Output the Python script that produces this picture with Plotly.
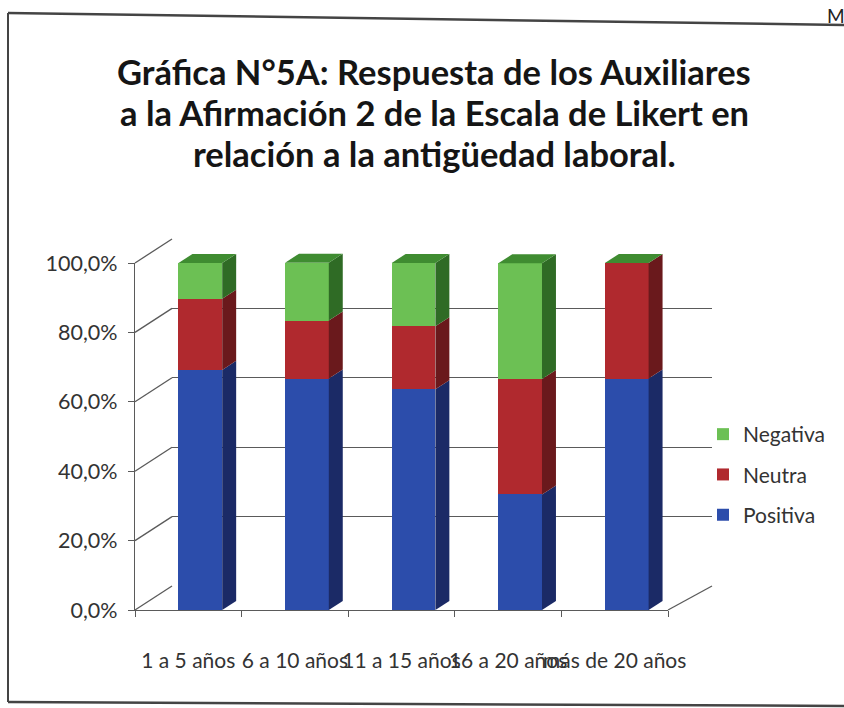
import plotly.graph_objects as go

# ---------------- data ----------------
categories = ["1 a 5 años", "6 a 10 años", "11 a 15 años", "16 a 20 años", "más de 20 años"]
positiva = [69.2, 66.7, 63.6, 33.3, 66.7]
neutra = [20.5, 16.7, 18.2, 33.3, 33.3]
negativa = [10.3, 16.7, 18.2, 33.3, 0.0]
y_tick_values = [0, 20, 40, 60, 80, 100]
y_tick_labels = ["0,0%", "20,0%", "40,0%", "60,0%", "80,0%", "100,0%"]
title_lines = ["Gráfica N°5A: Respuesta de los Auxiliares",
               "a la Afirmación 2 de la Escala de Likert en",
               "relación a la antigüedad laboral."]

# ---------------- style ----------------
W, H = 844, 708
FONT = "Lato"
front = {"Positiva": "#2C4DAB", "Neutra": "#B0292E", "Negativa": "#6CC054"}
side = {"Positiva": "#1B2A66", "Neutra": "#6A191C", "Negativa": "#2F6B25"}
top_color = "#3F8C31"
legend_rank = {"Negativa": 1, "Neutra": 2, "Positiva": 3}
BAR_W = 0.41
BAR_OFF = -0.092
DX = 0.131     # depth offset, category units
DY = 2.6       # depth offset, percent units


def fx(px):
    return px / W


def fy(py):
    return 1 - py / H


# back wall axes (x, y) and front axes (x2, y2)
xd = [fx(172), fx(712)]
yd = [fy(586), fy(239)]
x2d = [fx(135), fx(668)]
y2d = [fy(610), fy(263)]
n = len(categories)
unit = (x2d[1] - x2d[0]) / n


def pxc(c):  # category coordinate -> paper
    return x2d[0] + (c + 0.5) * unit


def py2(v):
    return y2d[0] + v / 100 * (y2d[1] - y2d[0])


def py1(v):
    return yd[0] + v / 100 * (yd[1] - yd[0])


fig = go.Figure()

# invisible trace so the back-wall subplot is drawn
fig.add_trace(go.Scatter(x=[0.5], y=[50], mode="markers", marker=dict(opacity=0),
                         showlegend=False, hoverinfo="skip", xaxis="x", yaxis="y"))

series = [("Positiva", positiva), ("Neutra", neutra), ("Negativa", negativa)]
for name, vals in series:
    fig.add_trace(go.Bar(
        x=categories, y=vals, name=name, xaxis="x2", yaxis="y2",
        width=BAR_W, offset=BAR_OFF,
        marker=dict(color=front[name], line=dict(width=0)),
        legendgroup=name, legendrank=legend_rank[name], hoverinfo="skip",
    ))

shapes = []
ddx = DX * unit
ddy = DY / 100 * (y2d[1] - y2d[0])
# 3D side faces, derived from the stacked data
base = [0.0] * n
for name, vals in series:
    for i in range(n):
        b, t = base[i], base[i] + vals[i]
        xr = pxc(i + BAR_OFF + BAR_W)
        if vals[i] > 0:
            path = (f"M {xr},{py2(b)} L {xr+ddx},{py2(b)+ddy} "
                    f"L {xr+ddx},{py2(t)+ddy} L {xr},{py2(t)} Z")
            shapes.append(dict(type="path", path=path, xref="paper", yref="paper",
                               fillcolor=side[name], line=dict(width=0), layer="above"))
        base[i] = t

# top faces
for i in range(n):
    t = base[i]
    xl = pxc(i + BAR_OFF)
    xr = pxc(i + BAR_OFF + BAR_W)
    path = (f"M {xl},{py2(t)} L {xl+ddx},{py2(t)+ddy} "
            f"L {xr+ddx},{py2(t)+ddy} L {xr},{py2(t)} Z")
    shapes.append(dict(type="path", path=path, xref="paper", yref="paper",
                       fillcolor=top_color, line=dict(width=0), layer="above"))

# diagonals linking the front axis to the back wall
for v in y_tick_values:
    shapes.append(dict(type="line", xref="paper", yref="paper",
                       x0=x2d[0], y0=py2(v), x1=xd[0], y1=py1(v),
                       line=dict(color="#5a5a5a", width=1.3), layer="below"))
# floor right edge
shapes.append(dict(type="line", xref="paper", yref="paper",
                   x0=x2d[1], y0=py2(0), x1=xd[1], y1=py1(0),
                   line=dict(color="#5a5a5a", width=1.3), layer="below"))
# outer frame (scanned page border: top, left, bottom)
for (ax0, ay0, ax1, ay1, wd) in [(8, 13, 844, 25, 2.5), (8, 13, 8, 702, 2), (8, 702, 844, 706, 2.5)]:
    shapes.append(dict(type="line", xref="paper", yref="paper",
                       x0=fx(ax0), y0=fy(ay0), x1=fx(ax1), y1=fy(ay1),
                       line=dict(color="#444444", width=wd)))

annotations = []
for line, yc in zip(title_lines, [72, 113, 154]):
    annotations.append(dict(text=f"<b>{line}</b>", xref="paper", yref="paper",
                            x=fx(434), y=fy(yc), xanchor="center", yanchor="middle",
                            showarrow=False,
                            font=dict(family=FONT, size=34.5, color="#151515")))
annotations.append(dict(text="M", xref="paper", yref="paper", x=fx(825), y=fy(2),
                        xanchor="left", yanchor="top", showarrow=False,
                        font=dict(family=FONT, size=19, color="#222222")))

fig.update_layout(
    width=W, height=H,
    margin=dict(l=0, r=0, t=0, b=0, autoexpand=False),
    paper_bgcolor="white",
    plot_bgcolor="rgba(0,0,0,0)",
    barmode="stack",
    font=dict(family=FONT, color="#333333"),
    xaxis=dict(domain=xd, range=[0, 1], showgrid=False, showline=False,
               zeroline=False, showticklabels=False, ticks="", anchor="y"),
    yaxis=dict(domain=yd, range=[0, 100], tickvals=y_tick_values, showgrid=True,
               gridcolor="#5a5a5a", gridwidth=1.3, zeroline=False, showline=False,
               showticklabels=False, ticks="", anchor="x"),
    xaxis2=dict(domain=x2d, type="category", range=[-0.5, n - 0.5], anchor="y2",
                tickson="boundaries", ticks="outside", ticklen=6, tickcolor="#5a5a5a",
                showline=True, linecolor="#5a5a5a", linewidth=1.3, showgrid=False,
                tickangle=0, tickfont=dict(family=FONT, size=21, color="#333333"),
                ticklabelstandoff=32, automargin=False),
    yaxis2=dict(domain=y2d, range=[0, 100], anchor="x2", tickvals=y_tick_values,
                ticktext=y_tick_labels, ticks="outside", ticklen=6, tickcolor="#5a5a5a",
                showline=True, linecolor="#5a5a5a", linewidth=1.3, showgrid=False,
                zeroline=False, tickfont=dict(family=FONT, size=21.5, color="#333333"),
                ticklabelstandoff=6, automargin=False),
    legend=dict(xref="paper", yref="paper", x=fx(703), y=fy(414),
                xanchor="left", yanchor="top", traceorder="grouped",
                tracegroupgap=10, font=dict(family=FONT, size=21, color="#333333"),
                bgcolor="rgba(0,0,0,0)", itemwidth=30),
    shapes=shapes,
    annotations=annotations,
)

fig.write_html("out.html", config={"displayModeBar": False},
               post_script="document.body.style.margin = '0px';")
